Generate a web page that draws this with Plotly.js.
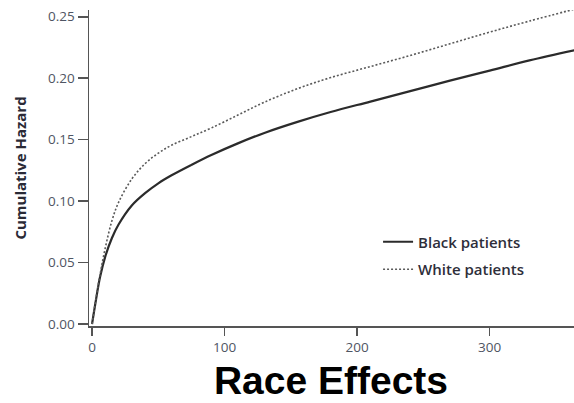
<!DOCTYPE html>
<html>
<head>
<meta charset="utf-8">
<script src="https://cdn.plot.ly/plotly-3.0.1.min.js"></script>
<style>html,body{margin:0;padding:0;background:#fff;}#chart{width:574px;height:403px;}</style>
</head>
<body>
<div id="chart"></div>
<script>
// Days since start
var days = [0, 3, 6, 10, 15, 20, 30, 40, 50, 60, 75, 90, 110, 130, 155, 180, 210, 240, 270, 300, 330, 365];
// Cumulative hazard, Black patients
var blackHazard = [0, 0.020, 0.038, 0.055, 0.070, 0.081, 0.0965, 0.1065, 0.1145, 0.121, 0.1295, 0.1375, 0.147, 0.1555, 0.1645, 0.1725, 0.181, 0.1895, 0.198, 0.2062, 0.2145, 0.223];
// Cumulative hazard, White patients
var whiteHazard = [0, 0.021, 0.040, 0.062, 0.084, 0.099, 0.118, 0.1305, 0.139, 0.1455, 0.1525, 0.1595, 0.170, 0.1805, 0.1915, 0.2005, 0.2095, 0.2185, 0.228, 0.2375, 0.2465, 0.2565];
var seriesNames = ["Black patients", "White patients"];
var yTicks = [0, 0.05, 0.10, 0.15, 0.20, 0.25];
var yTickText = ["0.00", "0.05", "0.10", "0.15", "0.20", "0.25"];
var xTicks = [0, 100, 200, 300];
var xTickText = ["0", "100", "200", "300"];

var traces = [
  {x: days, y: blackHazard, name: seriesNames[0], mode: "lines", type: "scatter",
   line: {color: "#2b2b2b", width: 2.2, shape: "spline"}, legendgroup: "b"},
  {x: days, y: whiteHazard, name: seriesNames[1], mode: "lines", type: "scatter",
   line: {color: "#5a5a5a", width: 1.6, dash: "2px,2px", shape: "spline"}, legendgroup: "w"}
];

var tickFont = {family: "Open Sans, sans-serif", size: 13.5, color: "#4f5563"};
var layout = {
  width: 574, height: 403,
  paper_bgcolor: "#fff", plot_bgcolor: "#fff",
  margin: {l: 88.5, r: 0, t: 10, b: 77, pad: 0},
  showlegend: true,
  legend: {
    x: 0.596, y: 0.318, xanchor: "left", yanchor: "top",
    font: {family: "Open Sans, sans-serif", size: 15, color: "#2e2e3a", weight: 600},
    bgcolor: "rgba(0,0,0,0)", itemwidth: 30,
    traceorder: "grouped", tracegroupgap: 5
  },
  title: {
    text: "<b>Race Effects</b>",
    font: {family: "Liberation Sans, Arial, sans-serif", size: 39, color: "#000"},
    xref: "container", yref: "container",
    x: 331 / 574, xanchor: "center",
    y: 1 - 380 / 403, yanchor: "middle"
  },
  xaxis: {
    range: [-2.3, 363.6],
    tickvals: xTicks, ticktext: xTickText,
    showgrid: false, zeroline: false,
    showline: true, linecolor: "#555", linewidth: 1.5,
    ticks: "outside", ticklen: 8, tickcolor: "#555", tickwidth: 1.5,
    tickfont: tickFont
  },
  yaxis: {
    range: [-0.0016, 0.2555],
    tickvals: yTicks, ticktext: yTickText,
    showgrid: false, zeroline: false,
    showline: true, linecolor: "#555", linewidth: 1.5,
    ticks: "outside", ticklen: 10, tickcolor: "#555", tickwidth: 1.5,
    tickfont: tickFont,
    title: {text: "<b>Cumulative Hazard</b>", font: {family: "Open Sans, sans-serif", size: 15, color: "#2a2a36"}, standoff: 18}
  }
};

Plotly.newPlot("chart", traces, layout, {staticPlot: true, displayModeBar: false});
</script>
</body>
</html>
